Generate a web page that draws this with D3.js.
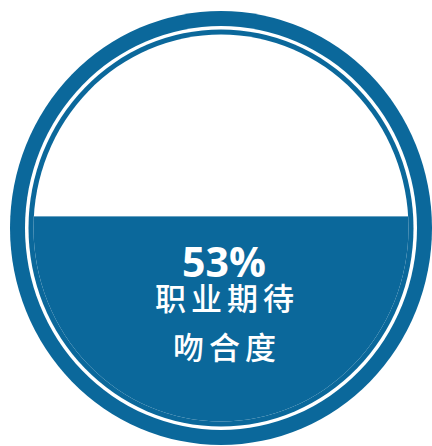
<!DOCTYPE html>
<html>
<head>
<meta charset="utf-8">
<script src="https://cdn.jsdelivr.net/npm/d3@7/dist/d3.min.js"></script>
<style>
html,body{margin:0;padding:0;background:#fff;}
svg{display:block;}
</style>
</head>
<body>
<svg id="chart" width="432" height="446"></svg>
<script>
// data
const values = [0.53];
const valueLabels = ["53%"];
const titleLines = ["职业期待", "吻合度"];

const W = 432, H = 446;
const blue = "#0b689b";
const cx = 221, cy = 228;
const outerRx = 211, outerRy = 217;
const svg = d3.select("#chart");

// rings
const rings = [
  {d: 0, fill: blue},
  {d: 15, fill: "#fff"},
  {d: 18.5, fill: blue},
  {d: 23.5, fill: "#fff"}
];
svg.selectAll("ellipse.ring").data(rings).join("ellipse")
  .attr("class", "ring")
  .attr("cx", cx).attr("cy", cy)
  .attr("rx", d => outerRx - d.d).attr("ry", d => outerRy - d.d)
  .attr("fill", d => d.fill);

const inRx = outerRx - 23.5, inRy = outerRy - 23.5;
const y = d3.scaleLinear().domain([0, 1]).range([cy + inRy, cy - inRy]);

svg.append("clipPath").attr("id", "inner")
  .append("ellipse").attr("cx", cx).attr("cy", cy).attr("rx", inRx).attr("ry", inRy);

svg.append("g").attr("clip-path", "url(#inner)")
  .selectAll("rect").data(values).join("rect")
  .attr("x", cx - inRx - 2).attr("width", inRx * 2 + 4)
  .attr("y", d => y(d)).attr("height", d => y(0) - y(d) + 2)
  .attr("fill", blue);

svg.selectAll("text.val").data(valueLabels).join("text")
  .attr("class", "val")
  .attr("x", 224).attr("y", 277)
  .attr("text-anchor", "middle")
  .attr("fill", "#fff")
  .attr("font-family", "'Open Sans', 'DejaVu Sans', sans-serif")
  .attr("font-weight", 700)
  .attr("font-size", 41)
  .text(d => d);

svg.selectAll("text.title").data(titleLines).join("text")
  .attr("class", "title")
  .attr("x", 227).attr("y", (d, i) => 299 + i * 49)
  .attr("dy", "0.36em")
  .attr("text-anchor", "middle")
  .attr("fill", "#fff")
  .attr("font-family", "'Noto Sans CJK SC', sans-serif")
  .attr("font-weight", 500)
  .attr("font-size", 31)
  .attr("letter-spacing", 5)
  .text(d => d);
</script>
</body>
</html>
